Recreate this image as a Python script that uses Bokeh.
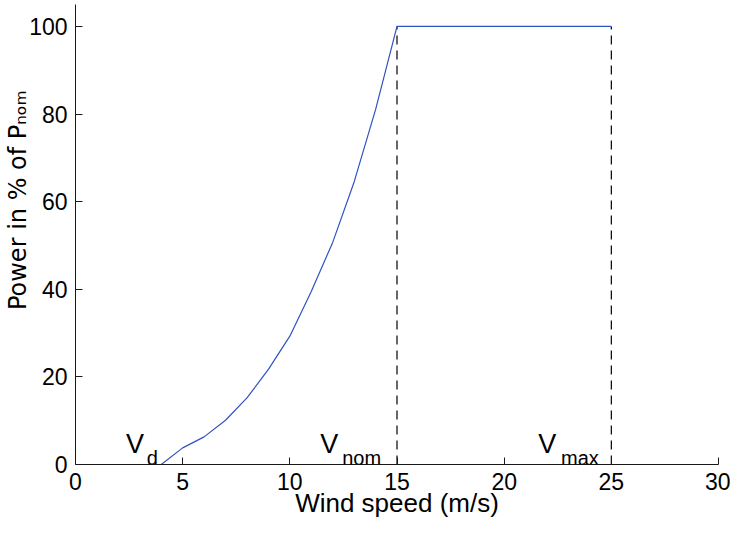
from bokeh.plotting import figure
from bokeh.models import Range1d, FixedTicker, Label
from bokeh.embed import file_html
from bokeh.resources import INLINE

# power curve
wind_speed = [0, 4, 5, 6, 7, 8, 9, 10, 11, 12, 13, 14, 15, 25]
power_pct = [0, 0, 3.8, 6.3, 10.1, 15.2, 21.7, 29.3, 39.5, 50.7, 64.5, 81.0, 100, 100]

# dashed markers at V_nom and V_max
marker_speeds = [15, 25]
marker_bottoms = [0, 0]
marker_tops = [100, 100]

x_ticks = [0, 5, 10, 15, 20, 25, 30]
y_ticks = [0, 20, 40, 60, 80, 100]

FONT = "Liberation Sans"
INK = "#1a1a1a"

p = figure(width=730, height=522, x_range=Range1d(0, 30), y_range=Range1d(0, 105),
           output_backend="svg", toolbar_location=None,
           min_border_left=75, min_border_right=12, min_border_top=4, min_border_bottom=58)
p.grid.visible = False
p.outline_line_color = None

p.segment(x0=marker_speeds, y0=marker_bottoms, x1=marker_speeds, y1=marker_tops,
          line_color="black", line_width=1.2, line_dash="9 6")
p.line(wind_speed, power_pct, line_color="#2f52c4", line_width=1.2)

for ax in (p.xaxis[0], p.yaxis[0]):
    ax.axis_line_color = INK
    ax.major_tick_line_color = INK
    ax.major_tick_in = 7
    ax.major_tick_out = 0
    ax.minor_tick_line_color = None
    ax.major_label_text_font = FONT
    ax.major_label_text_font_size = "23px"
    ax.major_label_text_color = "black"
    ax.major_label_standoff = 8
    ax.axis_label_text_font = FONT
    ax.axis_label_text_font_size = "26px"
    ax.axis_label_text_font_style = "normal"
    ax.axis_label_text_color = "black"
p.xaxis.ticker = FixedTicker(ticks=x_ticks)
p.yaxis.ticker = FixedTicker(ticks=y_ticks)

p.xaxis.axis_label = "Wind speed (m/s)"
p.xaxis.axis_label_standoff = -5
# label sits above the axis centre in the original, pad with nbsp to push it up;
# DejaVu has all three subscript letters so "nom" renders in one face
p.yaxis.axis_label = "\u00a0" * 9 + "Power in % of P\u2099\u2092\u2098"
p.yaxis.axis_label_text_font = "DejaVu Sans"
p.yaxis.axis_label_text_font_size = "24px"
p.yaxis.axis_label_standoff = -6


def txt(s, x, y, size):
    p.add_layout(Label(x=x, y=y, text=s, text_font=FONT, text_font_size=size,
                       text_color="black", text_align="left", text_baseline="alphabetic"))


# speed markers
txt("V", 2.36, 4.6, "27px")
txt("d", 3.33, 1.5, "20px")
txt("V", 11.42, 4.6, "27px")
txt("nom", 12.44, 1.5, "20px")
txt("V", 21.59, 4.6, "27px")
txt("max", 22.65, 1.5, "20px")

open("out.html", "w").write(file_html(p, INLINE))
